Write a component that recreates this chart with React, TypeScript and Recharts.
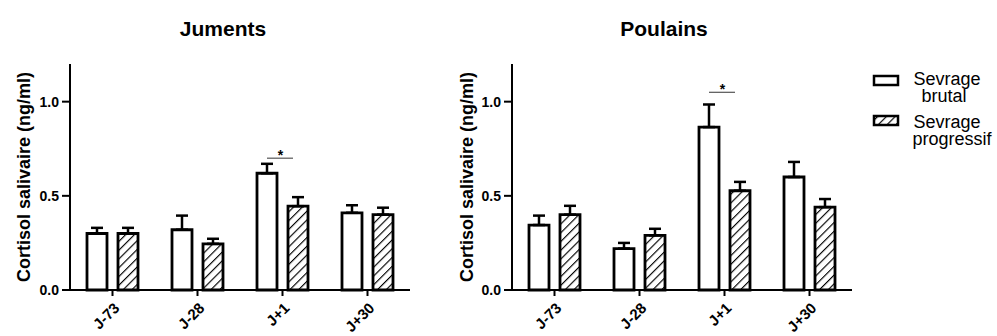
import React from 'react';
import { BarChart, Bar, XAxis, YAxis, ErrorBar, ReferenceLine } from 'recharts';

const days = ['J-73', 'J-28', 'J+1', 'J+30'];

const jumentsBrutal = [0.30, 0.32, 0.62, 0.41];
const jumentsBrutalErr = [0.03, 0.075, 0.05, 0.04];
const jumentsProgressif = [0.30, 0.245, 0.445, 0.40];
const jumentsProgressifErr = [0.03, 0.027, 0.048, 0.037];

const poulainsBrutal = [0.345, 0.22, 0.865, 0.60];
const poulainsBrutalErr = [0.05, 0.03, 0.12, 0.08];
const poulainsProgressif = [0.40, 0.29, 0.527, 0.44];
const poulainsProgressifErr = [0.047, 0.035, 0.047, 0.043];

const yTicks = [0, 0.5, 1.0];
const sigDay = 'J+1';
const jumentsSig = 0.70;
const poulainsSig = 1.05;

const FONT = '"Liberation Sans", Arial, Helvetica, sans-serif';

const build = (b: number[], be: number[], p: number[], pe: number[]) =>
  days.map((d, i) => ({ day: d, brutal: b[i], brutalErr: [0, be[i]], prog: p[i], progErr: [0, pe[i]] }));

const jumentsData = build(jumentsBrutal, jumentsBrutalErr, jumentsProgressif, jumentsProgressifErr);
const poulainsData = build(poulainsBrutal, poulainsBrutalErr, poulainsProgressif, poulainsProgressifErr);

const XTick = (props: any) => {
  const { x, y, payload } = props;
  const px = x + 8;
  const py = y + 11;
  return (
    <text x={px} y={py} transform={`rotate(-45, ${px}, ${py})`} textAnchor="end"
      fontSize={15} fontWeight="bold" fontFamily={FONT} fill="#000">
      {payload.value}
    </text>
  );
};

const YTick = (props: any) => {
  const { x, y, payload } = props;
  return (
    <text x={x} y={y + 5} textAnchor="end" fontSize={14} fontWeight="bold" fontFamily={FONT} fill="#000">
      {Number(payload.value).toFixed(1)}
    </text>
  );
};

const SigMark = (props: any) => {
  const { x1, y1 } = props;
  return (
    <g>
      <line x1={x1 - 15.5} y1={y1} x2={x1 + 10.5} y2={y1} stroke="#333" strokeWidth={1} />
      <text x={x1 - 2} y={y1 + 2} textAnchor="middle" fontSize={14} fontWeight="bold" fontFamily={FONT} fill="#000">*</text>
    </g>
  );
};

const CortisolChart: React.FC<{ data: any[]; sig: number; labelOffset: number }> = ({ data, sig, labelOffset }) => (
  <BarChart width={430} height={336} data={data} margin={{ top: 64, right: 20, left: 0, bottom: 0 }}
    barSize={20} barGap={11} barCategoryGap={0}>
    <XAxis dataKey="day" height={46} tick={<XTick />} tickSize={6} interval={0}
      axisLine={{ stroke: '#000', strokeWidth: 2 }} tickLine={{ stroke: '#000', strokeWidth: 2 }} />
    <YAxis width={70} domain={[0, 1.2]} ticks={yTicks} tickSize={8} tickMargin={3}
      tick={<YTick />}
      axisLine={{ stroke: '#000', strokeWidth: 2 }} tickLine={{ stroke: '#000', strokeWidth: 2 }}
      label={{ value: 'Cortisol salivaire (ng/ml)', angle: -90, position: 'insideLeft', offset: labelOffset,
        style: { textAnchor: 'middle', fontSize: 18, fontWeight: 'bold', fontFamily: FONT, fill: '#000' } }} />
    <Bar dataKey="brutal" fill="#fff" stroke="#000" strokeWidth={2.8} isAnimationActive={false}>
      <ErrorBar dataKey="brutalErr" width={6} stroke="#000" strokeWidth={2.5} direction="y" />
    </Bar>
    <Bar dataKey="prog" fill="url(#hatch)" stroke="#000" strokeWidth={2.8} isAnimationActive={false}>
      <ErrorBar dataKey="progErr" width={6} stroke="#000" strokeWidth={2.5} direction="y" />
    </Bar>
    <ReferenceLine segment={[{ x: sigDay, y: sig }, { x: sigDay, y: sig }]} shape={<SigMark />} ifOverflow="visible" />
  </BarChart>
);

export default function App() {
  return (
    <div style={{ position: 'absolute', left: 0, top: 0, width: 997, height: 336, background: '#fff', fontFamily: FONT }}>
      <svg width={0} height={0} style={{ position: 'absolute' }}>
        <defs>
          <pattern id="hatch" patternUnits="userSpaceOnUse" width={6.2} height={6.2} patternTransform="rotate(45)">
            <rect width={6.2} height={6.2} fill="#fff" />
            <line x1={0} y1={0} x2={0} y2={6.2} stroke="#000" strokeWidth={2.3} />
          </pattern>
        </defs>
      </svg>
      <div style={{ position: 'absolute', left: 0, top: 0 }}>
        <CortisolChart data={jumentsData} sig={jumentsSig} labelOffset={24} />
      </div>
      <div style={{ position: 'absolute', left: 442, top: 0 }}>
        <CortisolChart data={poulainsData} sig={poulainsSig} labelOffset={25} />
      </div>
      <div style={{ position: 'absolute', left: 123, width: 200, top: 17, textAlign: 'center', fontSize: 21, fontWeight: 'bold' }}>Juments</div>
      <div style={{ position: 'absolute', left: 564, width: 200, top: 17, textAlign: 'center', fontSize: 21, fontWeight: 'bold' }}>Poulains</div>
      <svg width={125} height={100} style={{ position: 'absolute', left: 872, top: 60 }}>
        <rect x={2} y={16} width={24} height={9} fill="#fff" stroke="#000" strokeWidth={2.5} />
        <rect x={2} y={56} width={24} height={9} fill="url(#hatch)" stroke="#000" strokeWidth={2.5} />
        <g fontFamily={FONT} fontSize={18} fill="#000" textAnchor="middle">
          <text x={75} y={25}>Sevrage</text>
          <text x={72} y={42}>brutal</text>
          <text x={75} y={68}>Sevrage</text>
          <text x={80} y={85}>progressif</text>
        </g>
      </svg>
    </div>
  );
}
